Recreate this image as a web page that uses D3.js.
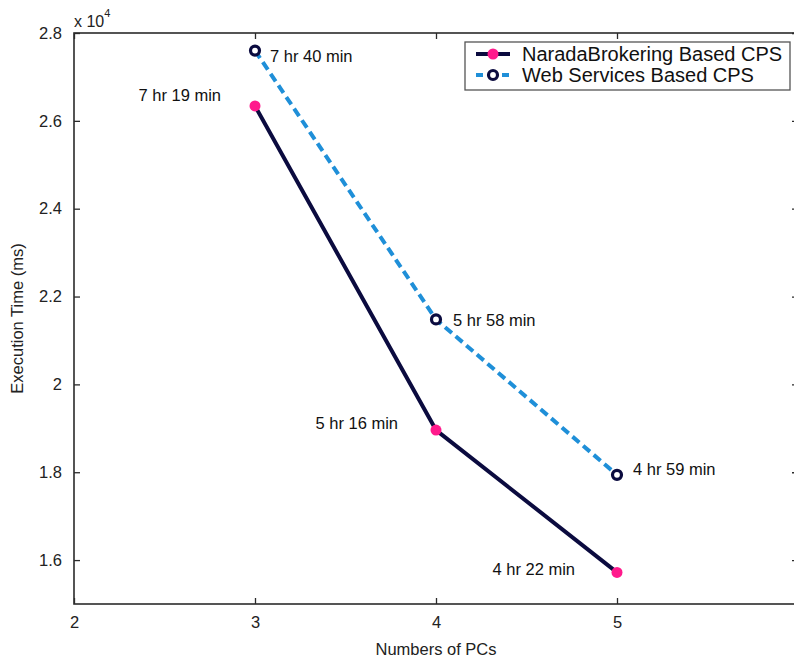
<!DOCTYPE html>
<html>
<head>
<meta charset="utf-8">
<script src="https://cdn.jsdelivr.net/npm/d3@7"></script>
<style>
  html, body { margin: 0; padding: 0; background: #fff; }
  svg { display: block; font-family: "Liberation Sans", Arial, sans-serif; }
</style>
</head>
<body>
<svg id="chart" width="794" height="658"></svg>
<script>
// Number of PCs used in each run
const pcs = [3, 4, 5];
// Execution time (x 10^4) for each configuration
const naradaTimes = [2.634, 1.896, 1.572];
const webServiceTimes = [2.760, 2.148, 1.794];
// Wall-clock annotations shown next to each point
const naradaLabels = ["7 hr 19 min", "5 hr 16 min", "4 hr 22 min"];
const webServiceLabels = ["7 hr 40 min", "5 hr 58 min", "4 hr 59 min"];
// Axis ticks
const xTicks = [2, 3, 4, 5];
const yTicks = [1.6, 1.8, 2.0, 2.2, 2.4, 2.6, 2.8];
const yTickLabels = ["1.6", "1.8", "2", "2.2", "2.4", "2.6", "2.8"];
const seriesNames = ["NaradaBrokering Based CPS", "Web Services Based CPS"];

const svg = d3.select("#chart");
const plotLeft = 74, plotTop = 33, plotRight = 798, plotBottom = 604;

const x = d3.scaleLinear().domain([2, 6]).range([plotLeft, plotRight]);
const y = d3.scaleLinear().domain([1.5, 2.8]).range([plotBottom, plotTop]);

const axisColor = "#2b2b2b";
const navy = "#0b0b3f";
const pink = "#ff1a8c";
const blue = "#1f8fd8";

// Frame
svg.append("rect")
  .attr("x", plotLeft).attr("y", plotTop)
  .attr("width", plotRight - plotLeft).attr("height", plotBottom - plotTop)
  .attr("fill", "none").attr("stroke", axisColor).attr("stroke-width", 1.6);

// Bottom and left axes with inward ticks
const xAxis = d3.axisBottom(x).tickValues(xTicks).tickSize(-6).tickPadding(12)
  .tickFormat(d3.format("d"));
const gx = svg.append("g").attr("transform", `translate(0,${plotBottom})`).call(xAxis);
const yAxis = d3.axisLeft(y).tickValues(yTicks).tickSize(-6).tickPadding(12)
  .tickFormat((d, i) => yTickLabels[i]);
const gy = svg.append("g").attr("transform", `translate(${plotLeft},0)`).call(yAxis);

// Mirrored ticks on top and right
const xTop = d3.axisTop(x).tickValues(xTicks).tickSize(-6).tickFormat("");
const gxt = svg.append("g").attr("transform", `translate(0,${plotTop})`).call(xTop);
const yRight = d3.axisRight(y).tickValues(yTicks).tickSize(-6).tickFormat("");
const gyr = svg.append("g").attr("transform", `translate(${plotRight},0)`).call(yRight);

[gx, gy, gxt, gyr].forEach(g => {
  g.select(".domain").remove();
  g.selectAll(".tick line").attr("stroke", axisColor).attr("stroke-width", 1.3);
  g.selectAll(".tick text").attr("fill", "#222").style("font-size", "16.5px")
    .style("font-family", "'Liberation Sans', Arial, sans-serif");
});

// Exponent marker above the y axis
const expo = svg.append("text").attr("x", plotLeft).attr("y", 27)
  .attr("fill", "#222").style("font-size", "16px");
expo.append("tspan").text("x 10");
expo.append("tspan").attr("dy", -10).style("font-size", "11px").text("4");

// Axis titles
svg.append("text").attr("x", x(4)).attr("y", 655)
  .attr("text-anchor", "middle").attr("fill", "#222").style("font-size", "16.5px")
  .text("Numbers of PCs");
svg.append("text")
  .attr("transform", `translate(23,${(plotTop + plotBottom) / 2}) rotate(-90)`)
  .attr("text-anchor", "middle").attr("fill", "#222").style("font-size", "16.5px")
  .text("Execution Time (ms)");

const line = d3.line().x(d => x(d[0])).y(d => y(d[1]));
const naradaPts = pcs.map((p, i) => [p, naradaTimes[i]]);
const webPts = pcs.map((p, i) => [p, webServiceTimes[i]]);

// NaradaBrokering series: solid navy line, magenta dots
svg.append("path").datum(naradaPts).attr("d", line)
  .attr("fill", "none").attr("stroke", navy).attr("stroke-width", 4)
  .attr("stroke-linejoin", "round");
svg.selectAll(".nb-dot").data(naradaPts).join("circle")
  .attr("cx", d => x(d[0])).attr("cy", d => y(d[1])).attr("r", 5.5)
  .attr("fill", pink);

// Web Services series: dashed blue line, navy rings
svg.append("path").datum(webPts).attr("d", line)
  .attr("fill", "none").attr("stroke", blue).attr("stroke-width", 4)
  .attr("stroke-dasharray", "9,5");
svg.selectAll(".ws-dot").data(webPts).join("circle")
  .attr("cx", d => x(d[0])).attr("cy", d => y(d[1])).attr("r", 4.5)
  .attr("fill", "#fff").attr("stroke", navy).attr("stroke-width", 3.2);

// Point annotations
const naradaOffsets = [[-34, -11], [-38, -7], [-42, -3]];
const webOffsets = [[15, 6], [17, 1], [16, -6]];
svg.selectAll(".nb-label").data(naradaPts).join("text")
  .attr("x", (d, i) => x(d[0]) + naradaOffsets[i][0])
  .attr("y", (d, i) => y(d[1]) + naradaOffsets[i][1])
  .attr("dy", "0.35em").attr("text-anchor", "end")
  .attr("fill", "#111").style("font-size", "16.5px")
  .text((d, i) => naradaLabels[i]);
svg.selectAll(".ws-label").data(webPts).join("text")
  .attr("x", (d, i) => x(d[0]) + webOffsets[i][0])
  .attr("y", (d, i) => y(d[1]) + webOffsets[i][1])
  .attr("dy", "0.35em").attr("text-anchor", "start")
  .attr("fill", "#111").style("font-size", "16.5px")
  .text((d, i) => webServiceLabels[i]);

// Legend
const lg = svg.append("g");
lg.append("rect").attr("x", 465).attr("y", 42).attr("width", 325).attr("height", 48)
  .attr("fill", "#fff").attr("stroke", "#555").attr("stroke-width", 1.3);
const rows = [54, 75];
rows.forEach((ry, i) => {
  if (i === 0) {
    lg.append("line").attr("x1", 476).attr("x2", 510).attr("y1", ry).attr("y2", ry)
      .attr("stroke", navy).attr("stroke-width", 4);
    lg.append("circle").attr("cx", 493).attr("cy", ry).attr("r", 5.5).attr("fill", pink);
  } else {
    lg.append("line").attr("x1", 476).attr("x2", 510).attr("y1", ry).attr("y2", ry)
      .attr("stroke", blue).attr("stroke-width", 4).attr("stroke-dasharray", "7,6");
    lg.append("circle").attr("cx", 493).attr("cy", ry).attr("r", 4.5)
      .attr("fill", "#fff").attr("stroke", navy).attr("stroke-width", 3.2);
  }
  lg.append("text").attr("x", 522).attr("y", ry).attr("dy", "0.35em")
    .attr("fill", "#111").style("font-size", "20px").text(seriesNames[i]);
});
</script>
</body>
</html>
